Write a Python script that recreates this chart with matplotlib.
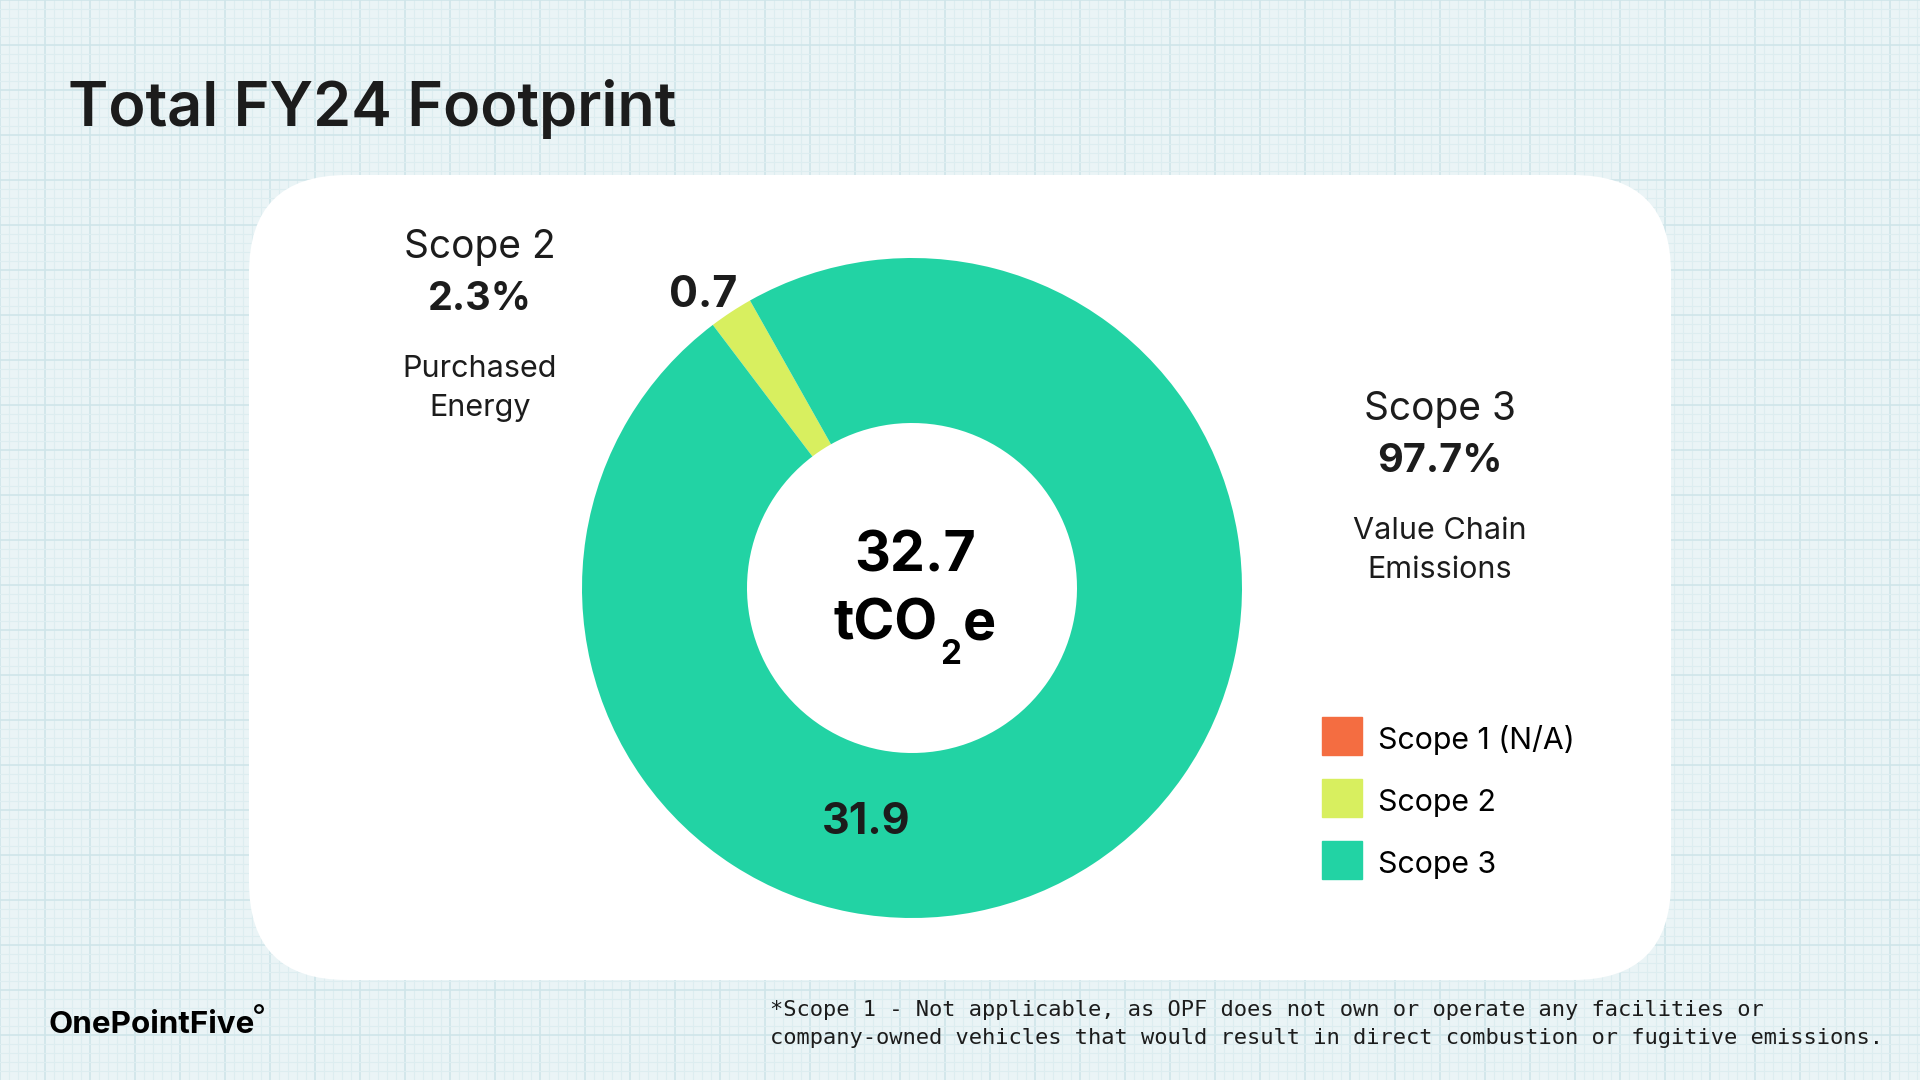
import matplotlib
matplotlib.use("Agg")
import matplotlib.pyplot as plt
from matplotlib.patches import FancyBboxPatch, Rectangle, Circle
import numpy as np

# Chart data
scopes = ["Scope 1 (N/A)", "Scope 2", "Scope 3"]
values = [0.0, 0.7, 31.9]
shares = ["N/A", "2.3%", "97.7%"]
descriptions = ["", "Purchased\nEnergy", "Value Chain\nEmissions"]
colors = ["#F46D41", "#D8EF5F", "#22D3A4"]
total_label = "32.7"
footnote = ("*Scope 1 - Not applicable, as OPF does not own or operate any facilities or\n"
            "company-owned vehicles that would result in direct combustion or fugitive emissions.")

W, H = 1920, 1080
INK = "#1c1c1c"
plt.rcParams["font.family"] = ["Inter", "DejaVu Sans"]

fig = plt.figure(figsize=(W / 100, H / 100), dpi=100)
bg = fig.add_axes([0, 0, 1, 1])
bg.set_xlim(0, W)
bg.set_ylim(H, 0)
bg.axis("off")

# graph-paper background
bg.add_patch(Rectangle((0, 0), W, H, color="#EAF4F6", zorder=0))
for x in np.arange(0, W, 9):
    major = round(x) % 45 == 0
    bg.axvline(x, color="#CFE5E9" if major else "#DDEDF0", lw=1.2 if major else 0.8, zorder=1)
for y in np.arange(0, H, 9):
    major = round(y) % 45 == 0
    bg.axhline(y, color="#CFE5E9" if major else "#DDEDF0", lw=1.2 if major else 0.8, zorder=1)

# white card
card = FancyBboxPatch((249, 175), 1422, 805, boxstyle="round,pad=0,rounding_size=98",
                      fc="white", ec="none", zorder=2)
bg.add_patch(card)

# title
bg.text(68, 126, "Total FY24 Footprint", fontsize=44, fontweight="semibold", color=INK,
        va="baseline", ha="left", zorder=3)

# donut
cx, cy, r = 912, 588, 330
ax = fig.add_axes([(cx - r) / W, (H - cy - r) / H, 2 * r / W, 2 * r / H])
nz = [i for i, v in enumerate(values) if v > 0]
ax.pie([values[i] for i in nz], colors=[colors[i] for i in nz], startangle=119.4,
       counterclock=True, radius=1, wedgeprops=dict(width=0.5, edgecolor="none"))
ax.set_xlim(-1, 1)
ax.set_ylim(-1, 1)
ax.set_aspect("equal")
ax.axis("off")

def polar(rad, ang):
    a = np.deg2rad(ang)
    return rad * np.cos(a), rad * np.sin(a)

x2, y2 = polar(1.089, 125.5)
ax.text(x2, y2, f"{values[1]:.1f}", fontsize=31, fontweight="bold", color=INK,
        ha="center", va="center", clip_on=False)
x3, y3 = polar(0.725, 259)
ax.text(x3, y3, f"{values[2]:.1f}", fontsize=31, fontweight="bold", color=INK,
        ha="center", va="center", clip_on=False)

# centre total
bg.text(915, 572, total_label, fontsize=40, fontweight="bold", color="black",
        ha="center", va="baseline", zorder=3)
# tCO2e with a low-set subscript, pieces laid out by measured width
parts = [("tCO", 40, 0), ("2", 24, 24), ("e", 40, 0)]
renderer = fig.canvas.get_renderer()
objs, widths = [], []
for s, fs, dy in parts:
    t = bg.text(0, 640 + dy, s, fontsize=fs, fontweight="bold", color="black",
                ha="left", va="baseline", zorder=3)
    objs.append(t)
    widths.append(t.get_window_extent(renderer).width)
gap = 2
xpos = 915 - (sum(widths) + gap * 2) / 2
for t, w in zip(objs, widths):
    t.set_x(xpos)
    xpos += w + gap

# callout blocks
blocks = [(1, 480, 258), (2, 1440, 420)]
for i, bx, by in blocks:
    bg.text(bx, by, scopes[i], fontsize=28, color=INK, ha="center", va="baseline", zorder=3)
    bg.text(bx, by + 52, shares[i], fontsize=28.5, fontweight="bold", color=INK,
            ha="center", va="baseline", zorder=3)
    for k, line in enumerate(descriptions[i].split("\n")):
        bg.text(bx, by + 119 + 39 * k, line, fontsize=22, color=INK, ha="center",
                va="baseline", zorder=3)

# legend
for k, (name, col) in enumerate(zip(scopes, colors)):
    top = 717 + 62 * k
    bg.add_patch(Rectangle((1322, top), 40, 38, color=col, zorder=3))
    bg.text(1378, top + 32, name, fontsize=21.8, color="black", ha="left", va="baseline", zorder=3)

# logo
bg.text(49, 1033, "OnePointFive", fontsize=22.6, fontweight="bold", color="black",
        ha="left", va="baseline", zorder=3)
bg.add_patch(Circle((259, 1009), 3.8, fc="none", ec="black", lw=1.6, zorder=3))

# footnote
bg.text(770, 1024, footnote, fontsize=15.8, family="DejaVu Sans Mono", color=INK,
        ha="left", va="center", linespacing=1.45, zorder=3)

fig.savefig("out.png", dpi=100)
